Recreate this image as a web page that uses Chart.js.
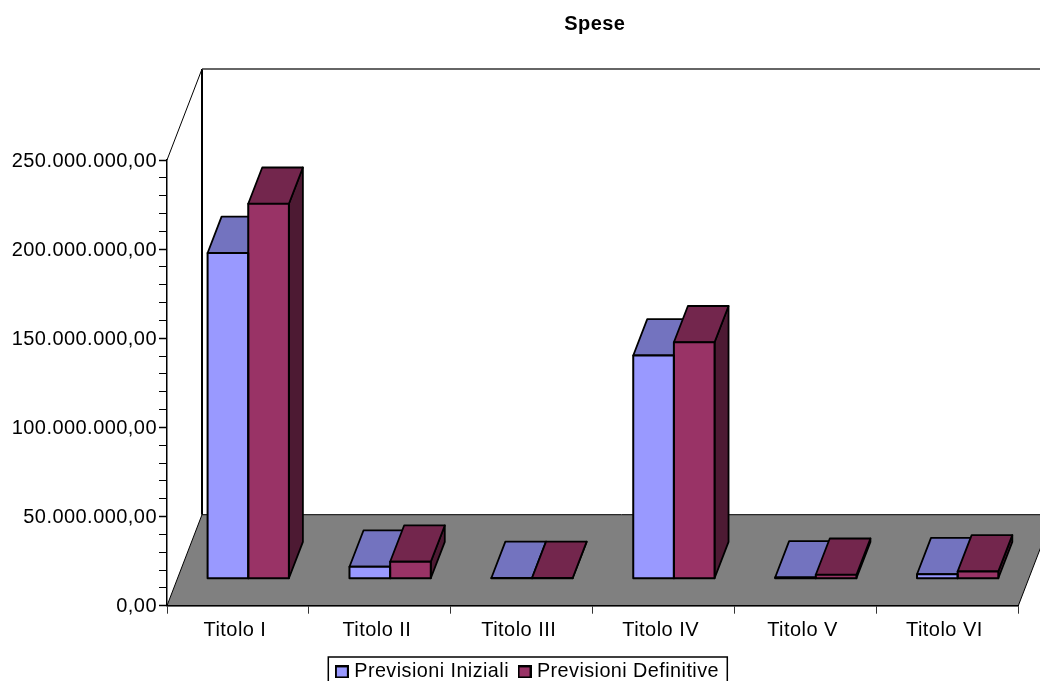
<!DOCTYPE html>
<html>
<head>
<meta charset="utf-8">
<title>Spese</title>
<script src="https://cdn.jsdelivr.net/npm/chart.js@4"></script>
<style>
  html, body { margin: 0; padding: 0; background: #fff; overflow: hidden; }
  canvas { display: block; }
</style>
</head>
<body>
<canvas id="chartSpese" width="1040" height="681"></canvas>
<script>
const categories = ["Titolo I", "Titolo II", "Titolo III", "Titolo IV", "Titolo V", "Titolo VI"];
const previsioniIniziali = [182700000, 6700000, 400000, 125200000, 700000, 2500000];
const previsioniDefinitive = [210300000, 9500000, 400000, 132600000, 2200000, 4100000];
const yTickLabels = ["0,00", "50.000.000,00", "100.000.000,00", "150.000.000,00", "200.000.000,00", "250.000.000,00"];

const FONT = "'Liberation Sans', Arial, sans-serif";
const SPACING = "0.45px";
const WALL_DX = 35, WALL_DY = -91;   // floor / wall depth
const BAR_DX = 10.3, BAR_DY = -27;   // bars stand in the middle of the floor
const TOP_DX = 14, TOP_DY = -36.3;   // bar depth

const faceColors = [
  { top: "#7373bf", side: "#4d4d80" },
  { top: "#73264d", side: "#4d1a33" },
];

function poly(ctx, pts, fill, stroke, width) {
  ctx.beginPath();
  pts.forEach((p, i) => (i ? ctx.lineTo(p[0], p[1]) : ctx.moveTo(p[0], p[1])));
  ctx.closePath();
  if (fill) {
    ctx.fillStyle = fill;
    ctx.fill();
  }
  ctx.strokeStyle = stroke;
  ctx.lineWidth = width;
  ctx.lineJoin = "round";
  ctx.stroke();
}

// legend square, as an image so the text can sit closer than Chart.js would put it
function swatch(color) {
  const c = document.createElement("canvas");
  c.width = 14;
  c.height = 13;
  const g = c.getContext("2d");
  g.fillStyle = color;
  g.fillRect(1, 1, 12, 11);
  g.strokeStyle = "#000";
  g.lineWidth = 2;
  g.strokeRect(1, 1, 12, 11);
  return c;
}

const look3d = {
  id: "look3d",
  beforeLayout(chart) {
    chart.ctx.letterSpacing = SPACING;
  },
  afterLayout(chart) {
    const title = chart.titleBlock;
    title.left += 85.7;
    title.right += 85.7;
    const legend = chart.legend;
    legend.left += 20;
    legend.right += 20;
    legend.top = 649;
  },
  beforeDraw(chart) {
    const { ctx, chartArea: a } = chart;
    ctx.letterSpacing = SPACING;
    ctx.save();
    // pavimento
    poly(ctx, [
      [a.left, a.bottom],
      [a.left + WALL_DX, a.bottom + WALL_DY],
      [a.right + WALL_DX, a.bottom + WALL_DY],
      [a.right, a.bottom],
    ], "#808080", "#000", 1);
    // pareti
    ctx.strokeStyle = "#000";
    ctx.lineWidth = 1;
    ctx.beginPath();
    ctx.moveTo(a.left, a.top);
    ctx.lineTo(a.left + WALL_DX, a.top + WALL_DY);
    ctx.stroke();
    ctx.lineWidth = 2;
    ctx.beginPath();
    ctx.moveTo(a.left + WALL_DX, a.top + WALL_DY);
    ctx.lineTo(a.left + WALL_DX, a.bottom + WALL_DY);
    ctx.stroke();
    ctx.lineWidth = 1.5;
    ctx.strokeStyle = "#333";
    ctx.beginPath();
    ctx.moveTo(a.left + WALL_DX, a.top + WALL_DY);
    ctx.lineTo(a.right + WALL_DX, a.top + WALL_DY);
    ctx.stroke();
    ctx.restore();
  },
  beforeDatasetsDraw(chart) {
    const ctx = chart.ctx;
    ctx.save();
    ctx.translate(BAR_DX, BAR_DY);
    // sides and tops go under the fronts drawn by the library
    categories.forEach((c, i) => {
      chart.data.datasets.forEach((ds, d) => {
        const bar = chart.getDatasetMeta(d).data[i];
        const l = bar.x - bar.width / 2, r = bar.x + bar.width / 2;
        poly(ctx, [
          [r, bar.y], [r + TOP_DX, bar.y + TOP_DY],
          [r + TOP_DX, bar.base + TOP_DY], [r, bar.base],
        ], faceColors[d].side, "#000", 1.8);
        poly(ctx, [
          [l, bar.y], [l + TOP_DX, bar.y + TOP_DY],
          [r + TOP_DX, bar.y + TOP_DY], [r, bar.y],
        ], faceColors[d].top, "#000", 1.8);
      });
    });
  },
  afterDatasetsDraw(chart) {
    const ctx = chart.ctx;
    // outline of the fronts
    ctx.strokeStyle = "#000";
    ctx.lineWidth = 2;
    chart.data.datasets.forEach((ds, d) => {
      chart.getDatasetMeta(d).data.forEach((bar) => {
        ctx.strokeRect(bar.x - bar.width / 2, bar.y, bar.width, bar.base - bar.y);
      });
    });
    ctx.restore();
  },
  afterDraw(chart) {
    const ctx = chart.ctx;
    ctx.save();
    ctx.strokeStyle = "#000";
    ctx.lineWidth = 1.5;
    ctx.strokeRect(328.3, 657, 399, 40);
    ctx.restore();
  },
};

new Chart(document.getElementById("chartSpese"), {
  type: "bar",
  data: {
    labels: categories,
    datasets: [
      {
        label: "Previsioni Iniziali",
        data: previsioniIniziali,
        backgroundColor: "#9999ff",
        borderWidth: 0,
        pointStyle: swatch("#9999ff"),
        clip: false,
      },
      {
        label: "Previsioni Definitive",
        data: previsioniDefinitive,
        backgroundColor: "#993366",
        borderWidth: 0,
        pointStyle: swatch("#993366"),
        clip: false,
      },
    ],
  },
  plugins: [look3d],
  options: {
    responsive: false,
    animation: false,
    categoryPercentage: 0.573,
    barPercentage: 1,
    layout: { padding: { left: 0, right: 21.7, top: 0, bottom: 0 } },
    plugins: {
      tooltip: { enabled: false },
      title: {
        display: true,
        text: "Spese",
        color: "#000",
        font: { family: FONT, size: 20, weight: "bold" },
        padding: { top: 12, bottom: 124 },
      },
      legend: {
        position: "bottom",
        labels: {
          usePointStyle: true,
          pointStyleWidth: 5,
          boxHeight: 12,
          padding: 13,
          color: "#000",
          font: { family: FONT, size: 19.8 },
        },
      },
    },
    scales: {
      x: {
        afterFit(scale) {
          scale.height = 75.3 - scale.chart.legend.height;
        },
        border: { color: "#000", width: 1.5 },
        grid: { drawOnChartArea: false, offset: true, tickLength: 8, tickColor: "#333" },
        ticks: { color: "#000", padding: 5, labelOffset: -3, maxRotation: 0, font: { family: FONT, size: 20 } },
      },
      y: {
        min: 0,
        max: 250000000,
        afterFit(scale) {
          scale.width = 167;
        },
        border: { color: "#000", width: 1.5 },
        grid: {
          drawOnChartArea: false,
          tickLength: 8,
          tickColor: "#000",
          tickWidth: (c) => (c.tick && c.tick.value % 50000000 === 0 ? 1.5 : 1),
        },
        ticks: {
          stepSize: 10000000,
          autoSkip: false,
          padding: 2,
          labelOffset: 1,
          color: "#000",
          font: { family: FONT, size: 20 },
          callback: (value) => (value % 50000000 === 0 ? yTickLabels[value / 50000000] : ""),
        },
      },
    },
  },
});
</script>
</body>
</html>
